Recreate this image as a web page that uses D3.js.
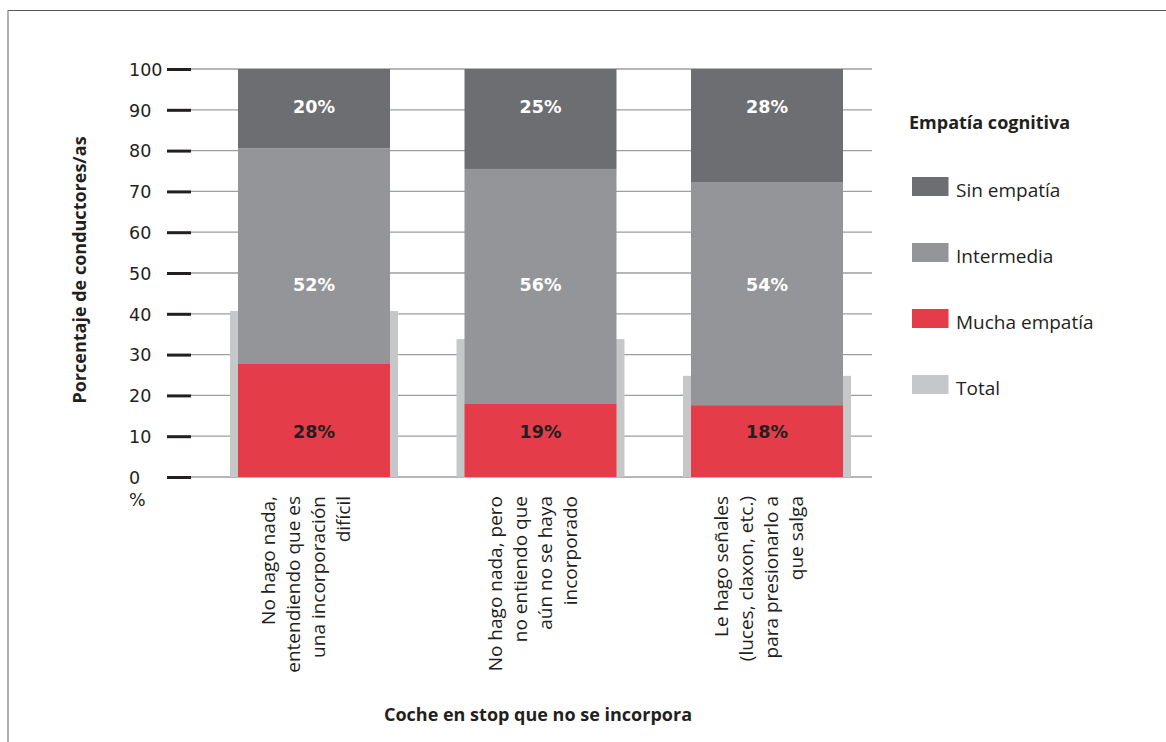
<!DOCTYPE html>
<html>
<head>
<meta charset="utf-8">
<script src="https://cdn.jsdelivr.net/npm/d3@7"></script>
<style>
  html, body { margin: 0; padding: 0; background: #fff; }
  svg { display: block; }
</style>
</head>
<body>
<svg id="chart" width="1166" height="742"></svg>
<script>
// ---------------- data ----------------
const categories = [
  "No hago nada, entendiendo que es una incorporación difícil",
  "No hago nada, pero no entiendo que aún no se haya incorporado",
  "Le hago señales (luces, claxon, etc.) para presionarlo a que salga"
];
const categoryLines = [
  ["No hago nada,", "entendiendo que es", "una incorporación", "difícil"],
  ["No hago nada, pero", "no entiendo que", "aún no se haya", "incorporado"],
  ["Le hago señales", "(luces, claxon, etc.)", "para presionarlo a", "que salga"]
];
const seriesNames = ["Mucha empatía", "Intermedia", "Sin empatía"];
const muchaValues = [27.7, 17.9, 17.6];
const intermediaValues = [52.9, 57.6, 54.7];
const sinValues = [19.4, 24.5, 27.7];
const totalValues = [40.7, 33.8, 24.8];
const muchaLabels = ["28%", "19%", "18%"];
const intermediaLabels = ["52%", "56%", "54%"];
const sinLabels = ["20%", "25%", "28%"];
const yTicks = [0, 10, 20, 30, 40, 50, 60, 70, 80, 90, 100];
const legendItems = ["Sin empatía", "Intermedia", "Mucha empatía", "Total"];

// ---------------- style ----------------
const colors = {
  "Sin empatía": "#6d6e71",
  "Intermedia": "#939598",
  "Mucha empatía": "#e53c4a",
  "Total": "#c6c7c9"
};
const textColor = "#231f20";
const sansReg = "'DejaVu Sans', sans-serif";
const openSans = "'Open Sans', sans-serif";

const svg = d3.select("#chart");

// frame
svg.append("line").attr("x1", 8).attr("x2", 1166).attr("y1", 10.5).attr("y2", 10.5)
  .attr("stroke", "#58595b").attr("stroke-width", 1.2);
svg.append("line").attr("x1", 8).attr("x2", 8).attr("y1", 10).attr("y2", 742)
  .attr("stroke", "#808080").attr("stroke-width", 1.2);

// scales
const y = d3.scaleLinear().domain([0, 100]).range([477, 69]);
const x = d3.scaleBand().domain(categories)
  .range([124.75, 956.25]).paddingInner(0.329).paddingOuter(0.5);

// gridlines
svg.append("g").selectAll("line").data(yTicks).join("line")
  .attr("x1", 191).attr("x2", 872)
  .attr("y1", d => y(d)).attr("y2", d => y(d))
  .attr("stroke", "#9d9ea0").attr("stroke-width", 1.3);

// axis ticks
const axis = d3.axisLeft(y).tickValues(yTicks).tickSize(24).tickFormat(d3.format("d"));
const ag = svg.append("g").attr("transform", "translate(191,0)").call(axis);
ag.select(".domain").remove();
ag.selectAll(".tick line").attr("stroke", textColor).attr("stroke-width", 3);
ag.selectAll(".tick text")
  .attr("x", -62).attr("dy", "0.36em")
  .attr("text-anchor", "start")
  .attr("fill", textColor)
  .style("font-family", sansReg).style("font-size", "17.5px");

svg.append("text").attr("x", 129).attr("y", 506)
  .attr("fill", textColor)
  .style("font-family", sansReg).style("font-size", "17.5px")
  .text("%");

// total bars (behind)
const totalPad = 8;
svg.append("g").selectAll("rect").data(categories).join("rect")
  .attr("x", d => x(d) - totalPad)
  .attr("width", x.bandwidth() + 2 * totalPad)
  .attr("y", (d, i) => y(totalValues[i]))
  .attr("height", (d, i) => y(0) - y(totalValues[i]))
  .attr("fill", colors["Total"]);

// stacked bars
const rows = categories.map((c, i) => ({
  cat: c,
  "Mucha empatía": muchaValues[i],
  "Intermedia": intermediaValues[i],
  "Sin empatía": sinValues[i]
}));
const stack = d3.stack().keys(seriesNames)(rows);
svg.append("g").selectAll("g").data(stack).join("g")
  .attr("fill", s => colors[s.key])
  .selectAll("rect").data(s => s).join("rect")
  .attr("x", d => x(d.data.cat))
  .attr("width", x.bandwidth())
  .attr("y", d => y(d[1]))
  .attr("height", d => y(d[0]) - y(d[1]));

// segment labels (fixed levels, as in the original)
const labelSets = [
  { labels: sinLabels, level: 90.7, fill: "#ffffff" },
  { labels: intermediaLabels, level: 47.1, fill: "#ffffff" },
  { labels: muchaLabels, level: 11.1, fill: textColor }
];
labelSets.forEach(set => {
  svg.append("g").selectAll("text").data(categories).join("text")
    .attr("x", d => x(d) + x.bandwidth() / 2)
    .attr("y", y(set.level))
    .attr("dy", "0.36em")
    .attr("text-anchor", "middle")
    .attr("fill", set.fill)
    .style("font-family", sansReg).style("font-size", "17.5px").style("font-weight", "bold")
    .text((d, i) => set.labels[i]);
});

// category labels (rotated, multi-line)
categories.forEach((c, i) => {
  const cx = x(c) + x.bandwidth() / 2;
  const g = svg.append("g");
  categoryLines[i].forEach((line, j) => {
    const bx = cx - 39 + j * 25;
    g.append("text")
      .attr("transform", `translate(${bx},496) rotate(-90)`)
      .attr("text-anchor", "end")
      .attr("fill", textColor)
      .style("font-family", openSans).style("font-size", "19px")
      .text(line);
  });
});

// axis titles
svg.append("text")
  .attr("transform", "translate(86,270) rotate(-90)")
  .attr("text-anchor", "middle")
  .attr("fill", textColor)
  .style("font-family", openSans).style("font-size", "18px").style("font-weight", "bold")
  .text("Porcentaje de conductores/as");

svg.append("text")
  .attr("x", 538).attr("y", 721)
  .attr("text-anchor", "middle")
  .attr("fill", textColor)
  .style("font-family", openSans).style("font-size", "18px").style("font-weight", "bold")
  .text("Coche en stop que no se incorpora");

// legend
const lg = svg.append("g");
lg.append("text").attr("x", 909).attr("y", 129)
  .attr("fill", textColor)
  .style("font-family", openSans).style("font-size", "18px").style("font-weight", "bold")
  .text("Empatía cognitiva");
const items = lg.selectAll("g.item").data(legendItems).join("g")
  .attr("class", "item")
  .attr("transform", (d, i) => `translate(912,${177 + i * 66})`);
items.append("rect").attr("width", 36.5).attr("height", 19)
  .attr("fill", d => colors[d]);
items.append("text").attr("x", 44).attr("y", 19.5)
  .attr("fill", textColor)
  .style("font-family", openSans).style("font-size", "19px")
  .text(d => d);
</script>
</body>
</html>
